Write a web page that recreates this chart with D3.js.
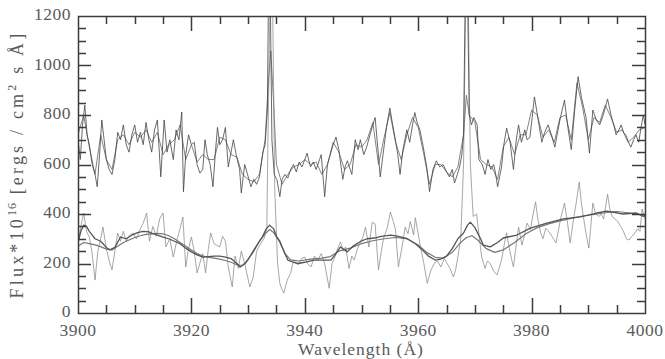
<!DOCTYPE html>
<html>
<head>
<meta charset="utf-8">
<script src="https://cdn.jsdelivr.net/npm/d3@7"></script>
<style>
  body { margin: 0; background: #fff; }
  svg { display: block; }
</style>
</head>
<body>
<svg id="chart" width="665" height="359"></svg>
<script>
// upper observed spectrum (noisy, with H & K emission cores)
const upperWl = [3900.0,3900.4,3900.8,3901.2,3901.6,3902.0,3902.5,3903.0,3903.4,3903.8,3904.2,3904.6,3905.0,3905.5,3906.0,3906.5,3907.0,3907.5,3908.0,3908.5,3909.0,3909.5,3910.0,3910.5,3911.0,3911.5,3912.0,3912.5,3913.0,3913.5,3914.0,3914.6,3915.2,3915.7,3916.2,3916.8,3917.3,3917.8,3918.3,3918.6,3919.0,3919.5,3920.0,3920.5,3921.0,3921.5,3922.0,3922.4,3922.8,3923.3,3923.8,3924.2,3924.6,3925.0,3925.5,3926.0,3926.5,3927.0,3927.4,3927.9,3928.5,3928.8,3929.4,3929.9,3930.5,3931.0,3931.5,3932.0,3932.6,3933.0,3933.4,3933.6,3933.9,3934.2,3934.6,3935.1,3935.6,3936.0,3936.5,3937.0,3937.5,3938.0,3938.5,3939.0,3939.5,3940.0,3940.4,3941.0,3941.5,3942.0,3942.6,3942.9,3943.5,3944.0,3944.5,3945.0,3945.5,3946.0,3946.7,3947.1,3947.5,3948.0,3948.3,3948.9,3949.4,3949.8,3950.4,3950.9,3951.5,3952.0,3952.4,3952.9,3953.3,3953.8,3954.4,3955.0,3955.5,3955.9,3956.4,3956.8,3957.3,3958.0,3958.5,3959.0,3959.4,3959.8,3960.3,3960.9,3961.5,3962.0,3962.6,3963.2,3963.8,3964.4,3965.0,3965.5,3966.0,3966.4,3966.9,3967.3,3967.7,3968.0,3968.3,3968.7,3969.0,3969.4,3969.8,3970.4,3970.7,3971.3,3971.8,3972.3,3972.8,3973.3,3973.6,3974.0,3974.7,3975.1,3975.6,3976.2,3976.8,3977.3,3977.7,3978.2,3978.8,3979.2,3979.7,3980.1,3980.5,3981.1,3981.8,3982.3,3982.9,3983.5,3984.1,3984.5,3985.0,3985.4,3985.8,3986.4,3987.0,3987.6,3988.2,3988.8,3989.2,3989.6,3990.2,3990.8,3991.4,3992.0,3992.5,3993.0,3993.4,3994.0,3994.5,3994.9,3995.4,3995.8,3996.2,3996.6,3997.1,3997.5,3998.0,3998.4,3998.9,3999.3,3999.7,4000.0];
const upperFlux = [700,620,760,840,720,680,600,560,510,640,780,700,620,580,560,620,730,700,760,680,650,720,760,690,730,680,770,700,650,740,780,550,780,650,700,620,740,700,812,490,640,720,680,690,600,565,580,700,640,600,510,640,750,680,700,750,590,650,700,640,580,485,600,560,510,540,520,550,650,680,820,1300,1300,700,560,537,470,540,560,545,580,600,570,610,590,620,646,590,610,580,620,640,470,600,640,680,711,660,540,590,615,580,560,700,660,700,640,670,720,760,790,660,550,640,750,828,760,710,640,560,660,740,690,760,810,770,740,670,590,490,580,615,590,600,570,550,580,525,560,590,640,720,1300,1300,800,760,790,760,620,600,560,620,580,600,570,510,590,680,747,690,580,700,760,690,740,700,710,790,873,790,690,730,760,720,670,720,780,820,860,750,660,820,955,870,830,790,646,820,780,760,790,830,865,800,760,720,740,760,730,720,690,670,700,720,690,750,800,760];

// upper smoothed spectrum
const upperSmWl = [3900,3901,3902,3903,3904,3905,3906,3907,3908,3909,3910,3911,3912,3913,3914,3915,3916,3917,3918,3919,3920,3921,3922,3923,3924,3925,3926,3927,3928,3929,3930,3931,3932,3933,3933.5,3934,3934.5,3935,3936,3937,3938,3939,3940,3941,3942,3943,3944,3945,3946,3947,3948,3949,3950,3951,3952,3953,3954,3955,3956,3957,3958,3959,3960,3961,3962,3963,3964,3965,3966,3967,3968,3968.5,3969,3970,3971,3972,3973,3974,3975,3976,3977,3978,3979,3980,3981,3982,3983,3984,3985,3986,3987,3988,3989,3990,3991,3992,3993,3994,3995,3996,3997,3998,3999,4000];
const upperSmFlux = [720,800,670,560,720,620,580,700,720,680,730,710,740,690,730,640,680,700,760,620,680,610,640,620,620,710,700,640,630,560,540,530,560,700,900,1060,850,600,520,560,590,600,620,600,610,560,600,690,650,580,600,680,670,700,770,600,710,810,690,620,720,790,750,640,520,600,600,570,550,590,720,880,800,770,620,600,590,540,670,710,640,720,720,820,800,710,740,690,790,800,700,930,830,700,790,770,840,790,730,740,690,710,740,750];

// lower observed spectrum (noisy, absorption wings around H & K)
const lowerWl = [3900.0,3900.5,3901.0,3901.5,3902.0,3902.5,3903.0,3903.5,3904.0,3904.4,3905.0,3905.6,3906.0,3906.5,3907.0,3907.5,3908.0,3908.5,3909.0,3909.7,3910.3,3911.0,3911.5,3912.1,3912.6,3913.2,3913.8,3914.4,3915.0,3915.5,3916.2,3916.8,3917.5,3918.0,3918.5,3919.0,3919.5,3920.0,3920.5,3921.0,3921.6,3922.0,3922.5,3923.0,3923.4,3924.0,3925.0,3925.5,3926.0,3926.5,3927.2,3927.7,3928.3,3928.8,3929.4,3930.3,3930.9,3931.5,3932.2,3932.8,3933.3,3933.5,3933.9,3934.3,3934.7,3935.2,3935.6,3936.0,3936.3,3936.9,3937.5,3938.0,3938.8,3939.4,3940.0,3940.5,3941.1,3941.7,3942.3,3942.9,3943.5,3944.3,3944.8,3945.2,3945.8,3946.3,3946.8,3947.2,3947.8,3948.3,3948.7,3949.3,3949.9,3950.3,3950.7,3951.3,3951.9,3952.4,3953.0,3953.5,3953.9,3954.5,3955.1,3955.6,3956.0,3956.5,3957.1,3957.7,3958.2,3958.6,3959.2,3959.5,3960.0,3960.4,3961.0,3961.6,3962.2,3962.8,3963.4,3964.0,3964.6,3965.1,3965.6,3966.2,3966.6,3967.0,3967.5,3968.0,3968.4,3968.8,3969.2,3969.7,3970.3,3970.8,3971.2,3971.8,3972.2,3972.7,3973.3,3973.9,3974.4,3974.8,3975.2,3975.6,3976.0,3976.5,3976.8,3977.2,3977.7,3978.3,3978.8,3979.2,3979.8,3980.2,3980.7,3981.1,3981.6,3982.0,3982.5,3983.0,3983.6,3984.3,3984.7,3985.1,3985.8,3986.3,3986.8,3987.4,3987.9,3988.4,3988.8,3989.2,3989.6,3990.1,3990.8,3991.3,3991.9,3992.3,3992.7,3993.4,3993.8,3994.2,3994.7,3995.2,3995.7,3996.2,3996.7,3997.2,3997.7,3998.2,3998.7,3999.1,3999.5,4000.0];
const lowerFlux = [283,350,404,330,307,240,133,250,300,347,260,202,174,250,323,290,330,290,310,323,300,340,363,404,290,350,310,380,404,267,300,226,300,340,388,186,260,307,250,162,210,240,162,260,323,280,267,310,290,186,105,230,180,250,200,105,145,250,280,300,340,700,1300,1300,500,200,120,93,80,133,160,214,195,220,226,200,186,230,214,240,200,100,200,220,260,287,250,267,180,230,214,260,290,310,347,267,367,360,174,250,303,340,408,370,337,186,260,347,320,370,315,385,320,267,200,120,170,200,210,186,220,200,180,146,174,226,300,600,1300,1300,600,390,400,300,226,180,210,200,170,154,190,226,280,323,270,214,186,260,347,274,320,363,337,390,449,380,323,300,343,330,310,283,330,380,444,370,283,380,450,530,440,380,320,262,444,400,390,400,380,480,420,390,380,370,350,330,300,295,310,323,340,330,420,380];

// lower smoothed spectra
const smoothAWl = [3900,3900.5,3901,3901.5,3902,3902.5,3903,3904,3905,3905.6,3906.5,3907.5,3908.5,3909.5,3910.5,3911.5,3912.5,3913,3914,3915,3916,3917,3918,3919,3920,3921,3922,3923,3924,3925,3926,3927,3928,3928.6,3929.5,3930.9,3932,3932.5,3933.2,3933.8,3934.5,3935,3935.6,3936.3,3937,3938,3938.8,3940,3941.6,3943,3944.6,3945.5,3946.3,3947.5,3948.5,3949.9,3951,3952.3,3953.5,3955.2,3956.5,3958.1,3959.5,3960.5,3961.8,3963,3964,3965,3966,3967,3968,3968.7,3969.2,3970,3971,3971.5,3972.7,3974,3975,3977.4,3979.8,3982.7,3985.6,3988.6,3991.5,3993.2,3995,3996.1,3998.5,3999.7,4000];
const smoothAFlux = [283,330,355,350,330,315,300,290,265,255,265,307,300,315,325,330,328,323,315,307,300,290,280,262,247,235,226,228,230,230,226,220,200,186,200,247,290,307,340,355,340,310,290,250,214,205,200,205,214,214,214,240,267,247,270,290,300,303,310,315,310,300,280,260,230,214,218,230,260,300,323,355,367,345,300,274,267,285,303,315,343,363,380,388,404,412,405,400,404,390,395];
const smoothBWl = [3900,3901,3902,3903,3904,3905,3906,3907,3908,3909,3910,3911,3912,3913,3914,3915,3916,3917,3918,3919,3920,3921,3922,3923,3924,3925,3926,3927,3928,3929,3930,3931,3932,3933,3933.8,3934.5,3935.5,3936.5,3937.5,3939,3941,3943,3944.5,3946,3948,3950,3952,3954,3956,3958,3960,3961.5,3963,3964.5,3966,3967.5,3968.5,3969.5,3970.5,3972,3973.5,3975,3977,3979,3981,3983,3985,3987,3989,3991,3993,3995,3997,3999,4000];
const smoothBFlux = [270,285,280,275,268,258,255,270,285,295,305,312,318,320,322,320,312,300,285,270,255,240,230,226,222,218,212,205,195,192,215,255,290,320,337,325,290,240,215,210,218,222,228,250,262,280,292,300,305,300,275,245,225,222,245,285,305,312,295,260,245,255,285,320,345,360,372,382,392,398,405,410,405,398,395];

// axis ticks
const xMajor = [3900, 3920, 3940, 3960, 3980, 4000];
const yMajor = [0, 200, 400, 600, 800, 1000, 1200];
const xMinor = [3905, 3910, 3915, 3925, 3930, 3935, 3945, 3950, 3955, 3965, 3970, 3975, 3985, 3990, 3995];
const yMinor = [50, 100, 150, 250, 300, 350, 450, 500, 550, 650, 700, 750, 850, 900, 950, 1050, 1100, 1150];

const svg = d3.select("#chart");
const mLeft = 78, mRight = 645, mTop = 16, mBottom = 313;
const font = "'Liberation Serif', 'Times New Roman', serif";
const ink = "#5a5a5a";

const x = d3.scaleLinear().domain([3900, 4000]).range([mLeft, mRight]);
const y = d3.scaleLinear().domain([0, 1200]).range([mBottom, mTop]);

svg.append("defs").append("clipPath").attr("id", "plot")
  .append("rect").attr("x", mLeft).attr("y", mTop).attr("width", mRight - mLeft).attr("height", mBottom - mTop);

const line = d3.line().x((d) => x(d[0])).y((d) => y(d[1]));

const g = svg.append("g").attr("clip-path", "url(#plot)");
const series = [
  { wl: lowerWl, fl: lowerFlux, color: "#8a8a8a", w: 0.75 },
  { wl: smoothBWl, fl: smoothBFlux, color: "#777", w: 1.2 },
  { wl: smoothAWl, fl: smoothAFlux, color: "#555", w: 1.3 },
  { wl: upperSmWl, fl: upperSmFlux, color: "#777", w: 0.9 },
  { wl: upperWl, fl: upperFlux, color: "#444", w: 0.8 }
];
series.forEach((s) => {
  g.append("path")
    .attr("d", line(d3.zip(s.wl, s.fl)))
    .attr("fill", "none")
    .attr("stroke", s.color)
    .attr("stroke-width", s.w)
    .attr("stroke-linejoin", "round");
});

// frame and inward ticks on all four sides, one path, snapped to whole pixels
const snap = (v) => Math.round(v) + 0.5;
const path = d3.path();
path.rect(mLeft + 0.5, mTop + 0.5, mRight - mLeft, mBottom - mTop);
xMajor.map((v) => [v, 15]).concat(xMinor.map((v) => [v, 8])).forEach(([v, len]) => {
  const px = snap(x(v));
  path.moveTo(px, mBottom); path.lineTo(px, mBottom - len);
  path.moveTo(px, mTop); path.lineTo(px, mTop + len);
});
yMajor.map((v) => [v, 13]).concat(yMinor.map((v) => [v, 8])).forEach(([v, len]) => {
  const py = snap(y(v));
  path.moveTo(mLeft, py); path.lineTo(mLeft + len, py);
  path.moveTo(mRight, py); path.lineTo(mRight - len, py);
});
svg.append("path").attr("d", path.toString())
  .attr("fill", "none").attr("stroke", "#3c3c3c").attr("stroke-width", 1.5);

// tick labels
const labelSize = "17.5px";
svg.append("g").selectAll("text").data(xMajor).join("text")
  .attr("x", (d) => x(d)).attr("y", 335.5)
  .attr("text-anchor", "middle").attr("fill", ink)
  .style("font-family", font).style("font-size", labelSize).style("letter-spacing", "0.5px")
  .text((d) => d);
svg.append("g").selectAll("text").data(yMajor).join("text")
  .attr("x", 71).attr("y", (d) => y(d) + 4)
  .attr("text-anchor", "end").attr("fill", ink)
  .style("font-family", font).style("font-size", labelSize).style("letter-spacing", "0.5px")
  .text((d) => d);

// axis titles
svg.append("text")
  .attr("x", 361).attr("y", 355)
  .attr("text-anchor", "middle")
  .attr("fill", ink)
  .style("font-family", font).style("font-size", labelSize).style("letter-spacing", "1px")
  .text("Wavelength (\u00c5)");

const yt = svg.append("text")
  .attr("transform", `translate(23,${(mTop + mBottom) / 2}) rotate(-90)`)
  .attr("text-anchor", "middle")
  .attr("fill", ink)
  .style("font-family", font).style("font-size", "18px").style("letter-spacing", "3.2px");
yt.append("tspan").text("Flux*10");
yt.append("tspan").attr("dy", -7).style("font-size", "12px").style("letter-spacing", "1px").text("16");
yt.append("tspan").attr("dy", 7).text(" [ergs / cm");
yt.append("tspan").attr("dy", -7).style("font-size", "12px").text("2");
yt.append("tspan").attr("dy", 7).text(" s \u00c5]");
</script>
</body>
</html>
